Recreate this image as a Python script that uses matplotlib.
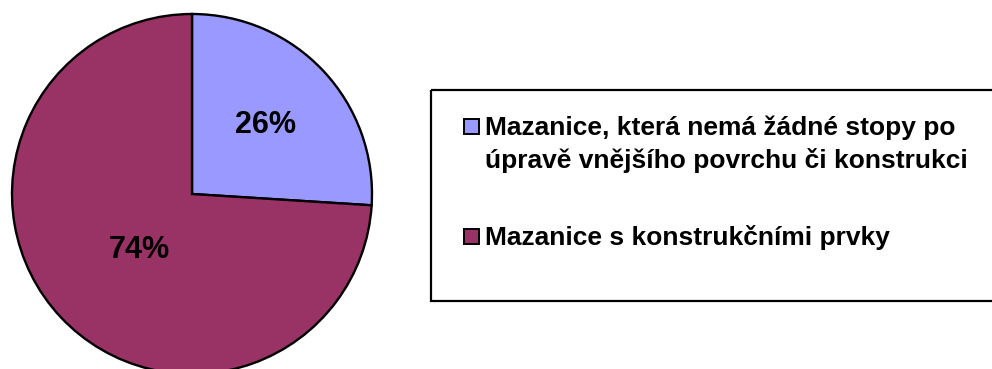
import matplotlib.pyplot as plt
from matplotlib.patches import Rectangle

# share of daub fragments by type
labels = ['Mazanice, která nemá žádné stopy po\núpravě vnějšího povrchu či konstrukci',
          'Mazanice s konstrukčními prvky']
values = [26, 74]
colors = ['#9999FF', '#993366']

plt.rcParams['font.family'] = ['Liberation Sans', 'DejaVu Sans']

fig = plt.figure(figsize=(9.92, 3.69), dpi=100)

# pie: centre (192, 194) px, radius 180 px
W, H = 992, 369
cx, cy, r = 192, 194, 180
ax = fig.add_axes([(cx - r) / W, (H - cy - r) / H, 2 * r / W, 2 * r / H])
wedges, texts, autotexts = ax.pie(values, colors=colors, startangle=90, counterclock=False,
                                  autopct='%1.0f%%', pctdistance=0.56,
                                  wedgeprops=dict(edgecolor='black', linewidth=1.7),
                                  textprops=dict(fontsize=22, fontweight='bold', color='black'))
ax.set_xlim(-1, 1)
ax.set_ylim(-1, 1)

# the big slice label sits closer to the centre
autotexts[1].set_position((-0.29, -0.31))

# legend drawn in pixel coordinates
lg = fig.add_axes([0, 0, 1, 1])
lg.set_xlim(0, W)
lg.set_ylim(H, 0)
lg.axis('off')
lg.add_patch(Rectangle((431, 90), 600, 211, fill=False, edgecolor='black', linewidth=1.6))

baselines = [135, 245]
for lab, col, base in zip(labels, colors, baselines):
    lg.add_patch(Rectangle((464, base - 16), 15, 15, facecolor=col,
                           edgecolor='black', linewidth=1.4))
    for i, line in enumerate(lab.split('\n')):
        lg.text(485, base + i * 33, line, fontsize=19, fontweight='bold',
                va='baseline', ha='left')

fig.savefig('out.png', dpi=100)
